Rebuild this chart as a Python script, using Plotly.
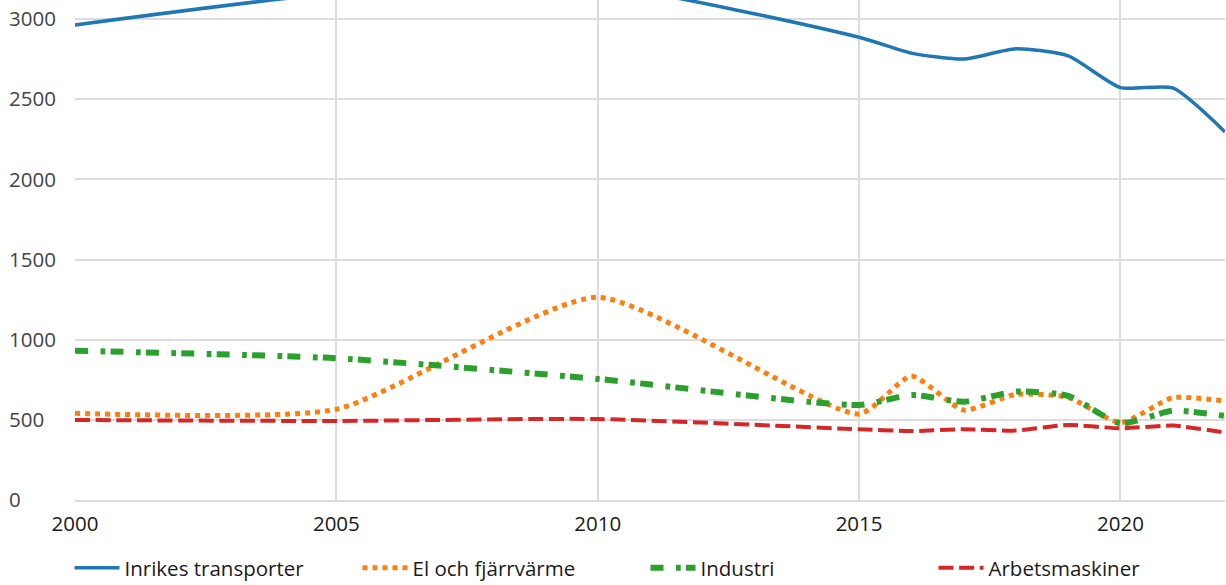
import plotly.graph_objects as go

years = [2000, 2005, 2010, 2015, 2016, 2017, 2018, 2019, 2020, 2021, 2022]
inrikes_transporter = [2963, 3160, 3210, 2886, 2787, 2750, 2815, 2770, 2572, 2570, 2296]
el_och_fjarrvarme = [541, 566, 1264, 536, 773, 561, 659, 640, 482, 638, 617]
industri = [931, 884, 755, 593, 655, 613, 676, 649, 478, 557, 524]
arbetsmaskiner = [499, 493, 505, 441, 430, 441, 433, 468, 447, 464, 420]

series_names = ["Inrikes transporter", "El och fjärrvärme", "Industri", "Arbetsmaskiner"]
y_ticks = [0, 500, 1000, 1500, 2000, 2500, 3000]
x_ticks = [2000, 2005, 2010, 2015, 2020]

W, H = 1226, 585
ML, MR, MT, MB = 0, 1, 0, 85
plot_w = W - ML - MR
plot_h = H - MT - MB

styles = [
    dict(color="#1f77b4", width=3.5, dash="solid", smoothing=0.6),
    dict(color="#ff7f0e", width=5, dash="dot", smoothing=0.55),
    dict(color="#2ca02c", width=6, dash="13px,12.5px,4.7px,5.2px", smoothing=0.6),
    dict(color="#d62728", width=4, dash="15px,5.6px", smoothing=0.6),
]

fig = go.Figure()
for name, vals, st in zip(series_names,
                          [inrikes_transporter, el_och_fjarrvarme, industri, arbetsmaskiner],
                          styles):
    fig.add_trace(go.Scatter(x=years, y=vals, name=name, mode="lines",
                             line=dict(shape="spline", **st)))

font_family = "Open Sans"
fig.update_layout(
    width=W, height=H,
    margin=dict(l=ML, r=MR, t=MT, b=MB, autoexpand=False),
    plot_bgcolor="white", paper_bgcolor="white",
    font=dict(family=font_family, size=20.5, color="#1a1a1a"),
    xaxis=dict(
        domain=[75 / plot_w, 1], range=[2000, 2022],
        tickvals=x_ticks, ticktext=[str(v) for v in x_ticks],
        showgrid=True, gridcolor="#dcdcdc", gridwidth=1.5,
        showline=True, linecolor="#dcdcdc", linewidth=1.5,
        zeroline=False, ticks="", ticklabelstandoff=5, automargin=False,
    ),
    yaxis=dict(
        range=[0, 3000 * 500 / 481], tickvals=y_ticks,
        ticklabelposition="inside", ticklabelstandoff=-69,
        ticklabeloverflow="allow",
        showgrid=True, gridcolor="#dcdcdc", gridwidth=1.5,
        zeroline=False, showline=False, ticks="", automargin=False,
    ),
    legend=dict(
        orientation="h", x=69.5 / plot_w, xanchor="left", y=-0.096, yanchor="top",
        entrywidth=228, entrywidthmode="pixels", itemwidth=45,
        font=dict(size=20.5, family=font_family),
    ),
    showlegend=True,
)

fig.write_html("out.html", config={"displayModeBar": False},
               post_script="document.body.style.margin='0';")
